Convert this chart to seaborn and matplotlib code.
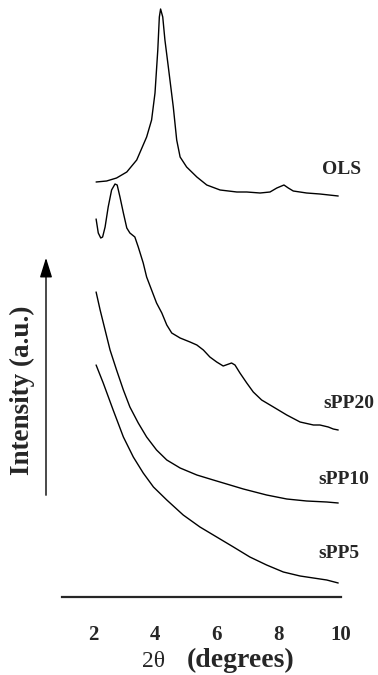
import numpy as np
import pandas as pd
import matplotlib
matplotlib.use("Agg")
import matplotlib.pyplot as plt
import seaborn as sns

# ---- data (2theta in degrees, intensity in a.u.) ----
ols_x = [2.10, 2.44, 2.76, 3.09, 3.41, 3.73, 3.89, 4.00, 4.09, 4.14, 4.18, 4.25, 4.32,
         4.43, 4.59, 4.70, 4.81, 5.02, 5.35, 5.67, 6.10, 6.64, 6.96, 7.39, 7.71, 7.93,
         8.16, 8.30, 8.46, 8.89, 9.32, 9.91]
ols_y = [415, 416, 419, 425, 437, 460, 477, 504, 547, 580, 588, 580, 557,
         530, 490, 457, 440, 430, 420, 412, 407, 405, 405, 404, 405, 409,
         412, 409, 406, 404, 403, 401]

spp20_x = [2.10, 2.17, 2.25, 2.31, 2.39, 2.49, 2.60, 2.71, 2.78, 2.87, 2.98, 3.09, 3.19,
           3.35, 3.46, 3.62, 3.73, 3.89, 4.05, 4.22, 4.38, 4.54, 4.81, 5.13, 5.35, 5.56,
           5.77, 5.99, 6.20, 6.47, 6.58, 6.74, 6.96, 7.17, 7.44, 7.82, 8.25, 8.68, 9.11,
           9.32, 9.59, 9.75, 9.91]
spp20_y = [378, 364, 359, 360, 370, 390, 407, 413, 412, 400, 384, 369, 364,
           360, 350, 334, 320, 307, 294, 284, 272, 264, 259, 255, 252, 247,
           240, 235, 231, 234, 232, 224, 214, 205, 197, 190, 182, 175, 172,
           172, 170, 168, 167]

spp10_x = [2.10, 2.23, 2.39, 2.55, 2.76, 2.98, 3.19, 3.46, 3.73, 4.05, 4.38, 4.81, 5.35,
           5.88, 6.42, 6.85, 7.60, 8.25, 8.89, 9.54, 9.91]
spp10_y = [305, 287, 267, 247, 227, 207, 190, 174, 160, 147, 137, 129, 122,
           117, 112, 108, 102, 98, 96, 95, 94]

spp5_x = [2.10, 2.33, 2.65, 2.98, 3.30, 3.62, 3.95, 4.38, 4.91, 5.45, 5.99, 6.53, 7.06,
          7.60, 8.14, 8.68, 9.11, 9.54, 9.91]
spp5_y = [232, 214, 187, 160, 140, 124, 110, 97, 82, 70, 60, 50, 40,
          32, 25, 21, 19, 17, 14]

series_names = ["OLS", "sPP20", "sPP10", "sPP5"]
label_pos = {"OLS": (9.39, 428), "sPP20": (9.42, 194), "sPP10": (9.26, 117), "sPP5": (9.26, 43)}
xticks = [1, 2, 3, 4, 5, 6, 7, 8, 9, 10]
xticklabels = ["", "2", "", "4", "", "6", "", "8", "", "10"]

frames = []
for name, xs, ys in [("OLS", ols_x, ols_y), ("sPP20", spp20_x, spp20_y),
                     ("sPP10", spp10_x, spp10_y), ("sPP5", spp5_x, spp5_y)]:
    frames.append(pd.DataFrame({"two_theta": xs, "intensity": ys, "sample": name}))
df = pd.concat(frames, ignore_index=True)

sns.set_style("white")
serif = ["Liberation Serif", "DejaVu Serif"]
plt.rcParams["font.family"] = serif

W, H = 378, 675
fig = plt.figure(figsize=(W / 100, H / 100), dpi=100)
ax = fig.add_axes([62 / W, (H - 597) / H, 279 / W, 597 / H])

sns.lineplot(data=df, x="two_theta", y="intensity", units="sample", estimator=None,
             color="black", linewidth=1.0, sort=False, ax=ax, legend=False)

ax.set_xlim(1, 10)
ax.set_ylim(0, 597)
ax.set_xticks(xticks)
ax.set_xticklabels(xticklabels, fontsize=15, fontweight="bold", family=serif)
ax.set_yticks([])
ax.set_xlabel("")
ax.set_ylabel("")
for s in ["top", "right", "left"]:
    ax.spines[s].set_visible(False)
ax.spines["bottom"].set_linewidth(1.6)
ax.tick_params(axis="x", direction="out", length=8, width=1.6, pad=12, color="black")

for name in series_names:
    x, y = label_pos[name]
    ax.text(x, y, name, ha="left", va="center", fontsize=14, fontweight="bold",
            family=serif, clip_on=False)

# x label: "2θ" normal, "(degrees)" bold
fig.text(142 / W, (H - 667) / H, "2θ", ha="left", va="baseline", fontsize=17, family=serif)
fig.text(187 / W, (H - 667) / H, "(degrees)", ha="left", va="baseline", fontsize=20,
         fontweight="bold", family=serif)

# y label with arrow
fig.text(22 / W, (H - 390) / H, "Intensity (a.u.)", rotation=90, ha="center", va="center",
         fontsize=19.5, fontweight="bold", family=serif)
ax.annotate("", xy=(46 / W, (H - 255) / H), xytext=(46 / W, (H - 498) / H),
            xycoords="figure fraction", textcoords="figure fraction",
            arrowprops=dict(arrowstyle="-|>,head_length=0.8,head_width=0.25",
                            color="black", lw=1.0, mutation_scale=15))

fig.savefig("out.png", dpi=100, facecolor="white")
